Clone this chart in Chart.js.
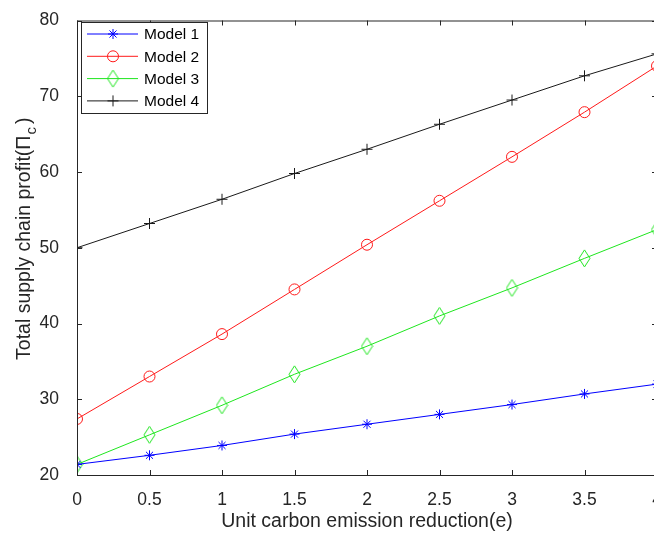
<!DOCTYPE html>
<html lang="en">
<head>
    <meta charset="UTF-8">
    <title>Total supply chain profit</title>
    <script src="https://cdn.jsdelivr.net/npm/chart.js"></script>
    <style>
        html, body { margin: 0; padding: 0; overflow: hidden; background: #fff; }
        #wrap { width: 672px; height: 534px; }
    </style>
</head>
<body>
    <div id="wrap"><canvas id="myChart"></canvas></div>
    <script>
        // data
        const eValues = [0, 0.5, 1, 1.5, 2, 2.5, 3, 3.5, 4];
        const model1 = [21.4, 22.6, 23.9, 25.4, 26.7, 28.0, 29.3, 30.7, 32.0];
        const model2 = [27.4, 33.0, 38.6, 44.5, 50.4, 56.2, 62.0, 67.9, 74.0];
        const model3 = [21.4, 25.3, 29.2, 33.3, 37.0, 41.0, 44.7, 48.6, 52.4];
        const model4 = [50.0, 53.2, 56.4, 59.8, 63.0, 66.3, 69.5, 72.7, 75.6];
        const xTicks = [0, 0.5, 1, 1.5, 2, 2.5, 3, 3.5, 4];
        const yTicks = [20, 30, 40, 50, 60, 70, 80];

        const axisColor = '#262626';
        const fontFamily = '"Liberation Sans", Arial, sans-serif';
        const blue = '#0000ff', red = '#ff1a1a', green = '#1ee61e', black = '#1a1a1a';

        // MATLAB diamond marker is taller than wide
        function diamond(color) {
            const c = document.createElement('canvas');
            c.width = 13; c.height = 19;
            const g = c.getContext('2d');
            g.strokeStyle = color;
            g.lineWidth = 1;
            g.beginPath();
            g.moveTo(6.5, 1); g.lineTo(12, 9.5); g.lineTo(6.5, 18); g.lineTo(1, 9.5);
            g.closePath();
            g.stroke();
            return c;
        }

        function makeSet(label, values, color, style, radius) {
            return {
                label: label,
                data: values.map((v, i) => ({x: eValues[i], y: v})),
                borderColor: color,
                backgroundColor: 'rgba(0,0,0,0)',
                pointBorderColor: color,
                pointBackgroundColor: 'rgba(0,0,0,0)',
                pointStyle: style,
                pointRadius: radius,
                pointBorderWidth: 1,
                borderWidth: 1,
                tension: 0
            };
        }

        // frame, inward ticks, legend and y title with subscript
        const matlabLook = {
            id: 'matlabLook',
            afterDraw: (chart) => {
                const {ctx, chartArea: a, scales} = chart;
                ctx.save();
                ctx.strokeStyle = axisColor;
                ctx.lineWidth = 1;
                ctx.strokeRect(a.left + 0.5, a.top + 0.5, a.right - a.left, a.bottom - a.top);
                ctx.beginPath();
                xTicks.forEach(t => {
                    const px = Math.round(scales.x.getPixelForValue(t)) + 0.5;
                    ctx.moveTo(px, a.bottom); ctx.lineTo(px, a.bottom - 5);
                    ctx.moveTo(px, a.top); ctx.lineTo(px, a.top + 5);
                });
                yTicks.forEach(t => {
                    const py = Math.round(scales.y.getPixelForValue(t)) + 0.5;
                    ctx.moveTo(a.left, py); ctx.lineTo(a.left + 5, py);
                    ctx.moveTo(a.right, py); ctx.lineTo(a.right - 5, py);
                });
                ctx.stroke();

                // legend box
                const bx = 81, by = 22, bw = 126, bh = 91;
                ctx.fillStyle = '#fff';
                ctx.fillRect(bx, by, bw, bh);
                ctx.strokeStyle = axisColor;
                ctx.strokeRect(bx + 0.5, by + 0.5, bw, bh);
                ctx.font = '15.5px ' + fontFamily;
                ctx.textBaseline = 'middle';
                chart.data.datasets.forEach((ds, i) => {
                    const cy = 34 + i * 22.3;
                    ctx.strokeStyle = ds.borderColor;
                    ctx.fillStyle = 'rgba(0,0,0,0)';
                    ctx.lineWidth = 1;
                    ctx.beginPath();
                    ctx.moveTo(87, cy); ctx.lineTo(138, cy);
                    ctx.stroke();
                    Chart.helpers.drawPoint(ctx, {
                        pointStyle: ds.pointStyle,
                        radius: ds.pointRadius,
                        borderWidth: 1,
                        rotation: 0
                    }, 113, cy);
                    ctx.fillStyle = '#000';
                    ctx.fillText(ds.label, 144, cy + 1);
                });

                // y axis title
                ctx.translate(25, (a.top + a.bottom) / 2 - 9);
                ctx.rotate(-Math.PI / 2);
                ctx.fillStyle = axisColor;
                ctx.textBaseline = 'middle';
                ctx.textAlign = 'left';
                const main = 'Total supply chain profit(\u03A0';
                const big = '19.5px ' + fontFamily, small = '15px ' + fontFamily;
                ctx.font = big;
                const wMain = ctx.measureText(main).width;
                const wClose = ctx.measureText(')').width;
                ctx.font = small;
                const wSub = ctx.measureText('c').width;
                const x0 = -(wMain + wSub + wClose + 4) / 2;
                ctx.font = big;
                ctx.fillText(main, x0, 0);
                ctx.fillText(')', x0 + wMain + wSub + 4, 0);
                ctx.font = small;
                ctx.fillText('c', x0 + wMain + 1, 7);
                ctx.restore();
            }
        };

        const ctx = document.getElementById('myChart').getContext('2d');
        const myChart = new Chart(ctx, {
            type: 'line',
            data: {
                datasets: [
                    makeSet('Model 1', model1, blue, 'star', 5),
                    makeSet('Model 2', model2, red, 'circle', 5.5),
                    makeSet('Model 3', model3, green, diamond(green), 7),
                    makeSet('Model 4', model4, black, 'cross', 5.5)
                ]
            },
            options: {
                responsive: true,
                maintainAspectRatio: false,
                animation: false,
                layout: { padding: { top: 20, right: 15, left: 0, bottom: 0 } },
                plugins: {
                    legend: { display: false },
                    tooltip: { enabled: false }
                },
                scales: {
                    x: {
                        type: 'linear',
                        min: 0,
                        max: 4,
                        afterBuildTicks: (s) => { s.ticks = xTicks.map(v => ({value: v})); },
                        afterFit: (s) => { s.height = 59; },
                        grid: { display: false },
                        border: { display: false },
                        ticks: {
                            color: axisColor,
                            font: { size: 17.5, family: fontFamily },
                            padding: 7,
                            maxRotation: 0,
                            callback: (v) => String(v)
                        },
                        title: {
                            display: true,
                            text: 'Unit carbon emission reduction(e)',
                            color: axisColor,
                            font: { size: 19.5, family: fontFamily },
                            padding: { top: 0, bottom: 1 }
                        }
                    },
                    y: {
                        min: 20,
                        max: 80,
                        afterBuildTicks: (s) => { s.ticks = yTicks.map(v => ({value: v})); },
                        afterFit: (s) => { s.width = 77; },
                        grid: { display: false },
                        border: { display: false },
                        ticks: {
                            color: axisColor,
                            font: { size: 17.5, family: fontFamily },
                            padding: 10
                        }
                    }
                }
            },
            plugins: [matlabLook]
        });
    </script>
</body>
</html>
